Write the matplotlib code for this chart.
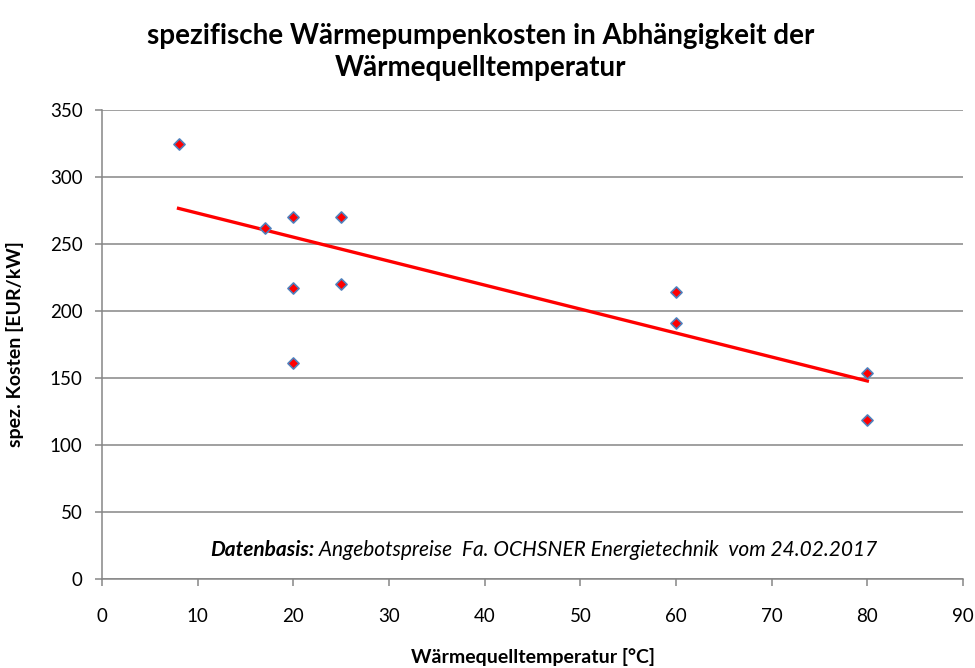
import matplotlib
matplotlib.use("Agg")
import matplotlib.pyplot as plt

# Wärmequelltemperatur [°C] and specific heat-pump cost [EUR/kW]
temperature = [8, 17, 20, 25, 20, 25, 20, 60, 60, 80, 80]
cost = [325, 262, 270, 270, 217, 220, 161, 214, 191, 154, 119]

# linear trend line endpoints
trend_x = [8, 80]
trend_y = [276.6, 147.8]

x_ticks = [0, 10, 20, 30, 40, 50, 60, 70, 80, 90]
y_ticks = [0, 50, 100, 150, 200, 250, 300, 350]

plt.rcParams['font.family'] = ['Lato', 'DejaVu Sans']

fig = plt.figure(figsize=(9.75, 6.68), dpi=100)
ax = fig.add_axes([0.1046, 0.1332, 0.9877 - 0.1046, 0.8353 - 0.1332])

grid_col = "#868686"
ax.set_xlim(0, 90)
ax.set_ylim(0, 350)
ax.set_xticks(x_ticks)
ax.set_yticks(y_ticks)
ax.yaxis.grid(True, color=grid_col, linewidth=1.1)
ax.set_axisbelow(True)
for s in ("top", "right"):
    ax.spines[s].set_visible(False)
for s in ("left", "bottom"):
    ax.spines[s].set_color(grid_col)
    ax.spines[s].set_linewidth(1.1)
ax.tick_params(axis="both", direction="out", length=5, width=1.1, color=grid_col,
               labelsize=13.5, labelcolor="black")
ax.tick_params(axis="x", pad=16)
ax.tick_params(axis="y", pad=9)

ax.plot(trend_x, trend_y, color="#FF0000", linewidth=2.4, zorder=3)
ax.scatter(temperature, cost, marker="D", s=32, facecolor="#FF0000",
           edgecolor="#4F81BD", linewidth=1.2, zorder=4)

fig.text(0.493, 0.922, "spezifische Wärmepumpenkosten in Abhängigkeit der\nWärmequelltemperatur",
         ha="center", va="center", fontsize=20, fontweight="bold", linespacing=1.3)

ax.set_ylabel("spez. Kosten [EUR/kW]", fontsize=14, fontweight="bold")
ax.yaxis.set_label_coords(-0.0906, 0.5)
fig.text(0.547, 0.016, "Wärmequelltemperatur [°C]", ha="center", va="center",
         fontsize=14, fontweight="bold")

note = ax.text(11.3, 22, "Datenbasis:", fontsize=15, fontweight="bold", style="italic",
               ha="left", va="center")
ax.annotate(" Angebotspreise  Fa. OCHSNER Energietechnik  vom 24.02.2017",
            xy=(1, 0.5), xycoords=note, ha="left", va="center",
            fontsize=15, style="italic")

fig.savefig("out.png", dpi=100)
